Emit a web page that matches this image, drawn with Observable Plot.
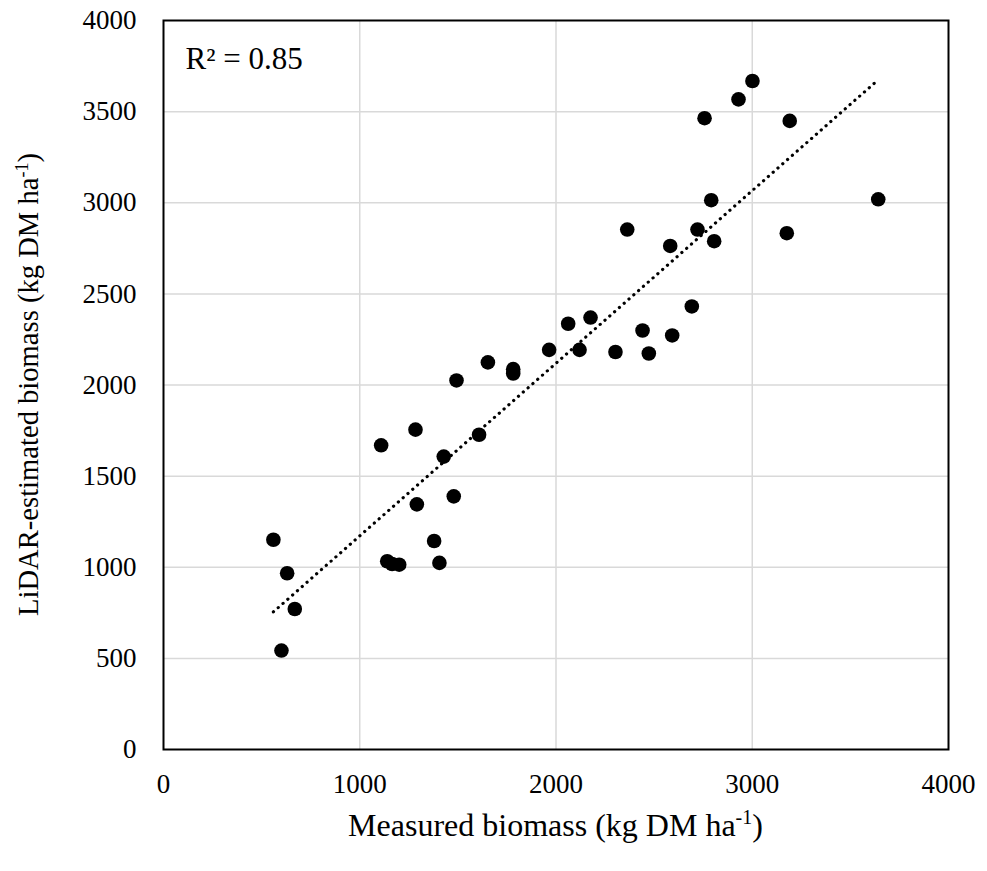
<!DOCTYPE html>
<html><head><meta charset="utf-8">
<script src="https://cdn.jsdelivr.net/npm/d3@7"></script>
<script src="https://cdn.jsdelivr.net/npm/@observablehq/plot@0.6"></script>
<style>
body{margin:0;background:#fff}
#chart svg, #chart svg text { font-family: "Liberation Serif", "Times New Roman", serif !important; }
</style>
</head><body><div id="chart"></div>
<script>
const measured  = [560,630,669,601,1109,1284,1493,1653,1608,1428,1479,1291,1379,1140,1165,1201,1406,1782,1782,1965,2062,2176,2120,2303,2441,2473,2592,2692,2363,2582,2721,2806,2791,2757,2930,3001,3191,3176,3642];
const estimated = [1151,967,771,543,1669,1755,2025,2124,1727,1607,1389,1345,1144,1033,1018,1014,1024,2087,2063,2193,2336,2370,2193,2181,2299,2173,2272,2431,2853,2763,2853,2789,3014,3464,3567,3668,3449,2833,3019];
const xTicks = [0,1000,2000,3000,4000];
const yTicks = [0,500,1000,1500,2000,2500,3000,3500,4000];
const r2Label = "R² = 0.85";
const xTitle = ["Measured biomass (kg DM ha", "-1", ")"];
const yTitle = ["LiDAR-estimated biomass (kg DM ha", "-1", ")"];

const data = measured.map((m, i) => ({measured: m, estimated: estimated[i]}));
const FONT = "Liberation Serif";

const svg = Plot.plot({
  width: 987, height: 871,
  marginLeft: 163, marginRight: 39, marginTop: 20, marginBottom: 122,
  style: {fontSize: "27px", color: "#000", background: "#fff"},
  x: {domain: [0, 4000], label: null},
  y: {domain: [0, 4000], label: null},
  marks: [
    Plot.gridX(xTicks.slice(1, -1), {stroke: "#d9d9d9", strokeOpacity: 1, strokeWidth: 1.5}),
    Plot.gridY(yTicks.slice(1, -1), {stroke: "#d9d9d9", strokeOpacity: 1, strokeWidth: 1.5}),
    Plot.axisX(xTicks, {tickSize: 0, tickPadding: 24, fontSize: 27, fontFamily: FONT, tickFormat: d => String(d), label: null}),
    Plot.axisY(yTicks, {tickSize: 0, tickPadding: 27, fontSize: 27, fontFamily: FONT, tickFormat: d => String(d), label: null}),
    Plot.linearRegressionY(data, {x: "measured", y: "estimated", ci: 0, stroke: "#000", strokeWidth: 3.2, strokeDasharray: "0.1,6.3", strokeLinecap: "round"}),
    Plot.dot(data, {x: "measured", y: "estimated", r: 7.3, fill: "#000", stroke: "none"}),
    Plot.frame({stroke: "#000", strokeWidth: 2}),
    Plot.text([r2Label], {frameAnchor: "top-left", dx: 22, dy: 48, lineAnchor: "bottom", textAnchor: "start", fontSize: 31, fontFamily: FONT, fill: "#000"})
  ]
});
document.getElementById("chart").appendChild(svg);

function addTitle(parts, transform, size) {
  const t = d3.select(svg).append("text")
    .attr("transform", transform)
    .attr("text-anchor", "middle")
    .attr("font-family", FONT)
    .attr("font-size", size)
    .attr("fill", "#000");
  t.append("tspan").text(parts[0]);
  t.append("tspan").attr("font-size", Math.round(size * 0.62)).attr("dy", -Math.round(size * 0.36)).text(parts[1]);
  t.append("tspan").attr("dy", Math.round(size * 0.36)).text(parts[2]);
}
addTitle(xTitle, "translate(555.5,836)", 32);
addTitle(yTitle, "translate(38,384.5) rotate(-90)", 28.6);
</script>
</body></html>
